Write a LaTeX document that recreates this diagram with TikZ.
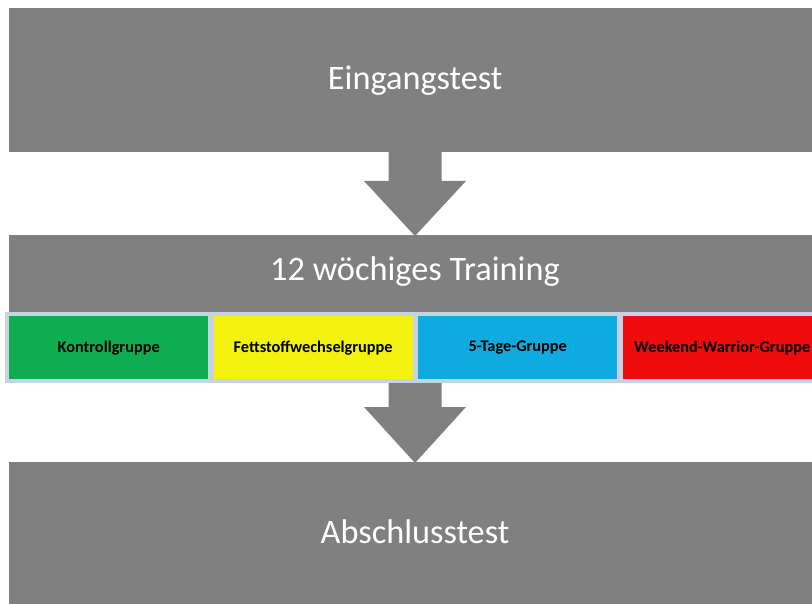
\documentclass[tikz,border=0pt]{standalone}
\usepackage{fontspec}
\setmainfont{Carlito}
\definecolor{boxgrey}{RGB}{128,128,128}
\definecolor{bandblue}{RGB}{200,210,226}
\definecolor{grpgreen}{RGB}{16,172,80}
\definecolor{grpyellow}{RGB}{242,242,14}
\definecolor{grpblue}{RGB}{14,170,224}
\definecolor{grpred}{RGB}{240,12,12}
\begin{document}
\begin{tikzpicture}[x=1pt,y=-1pt,
  bigbox/.style={fill=boxgrey, draw=none, text=white, inner sep=0pt, anchor=north west,
    font=\fontsize{34.3}{40}\selectfont},
  grpbox/.style={draw=none, inner sep=0pt, anchor=north west, minimum width=199pt,
    minimum height=63pt, text=black, font=\fontsize{16.3}{19}\selectfont\bfseries},
  arrowfill/.style={fill=boxgrey, draw=none}
]
\useasboundingbox (0,0) rectangle (812,604);
% top box
\node[bigbox, minimum width=812pt, minimum height=144pt] (eingang) at (9,8) {Eingangstest};
% middle box
\node[bigbox, minimum width=812pt, minimum height=77pt] (training) at (9,235) {};
\node[text=white, font=\fontsize{34.3}{40}\selectfont, inner sep=0pt] (traintext) at (415,272) {12 wöchiges Training};
% band
\node[fill=bandblue, draw=none, inner sep=0pt, anchor=north west, minimum width=820pt, minimum height=71pt] (band) at (5,312) {};
\node[grpbox, fill=grpgreen] (g1) at (9,316) {Kontrollgruppe};
\node[grpbox, fill=grpyellow] (g2) at (213.5,316) {Fettstoffwechselgruppe};
\node[grpbox, fill=grpblue] (g3) at (418,316) {5-Tage-Gruppe};
\node[grpbox, fill=grpred] (g4) at (622.5,316) {Weekend-Warrior-Gruppe};
% bottom box
\node[bigbox, minimum width=812pt, minimum height=150pt] (abschluss) at (9,462) {};
\node[text=white, font=\fontsize{34.3}{40}\selectfont, inner sep=0pt] (abtext) at (415,532) {Abschlusstest};
% arrow 1
\coordinate (a1top) at (415,152);
\coordinate (a1tip) at (415,236);
\fill[arrowfill] ([xshift=-26.5pt]a1top) -- ([xshift=26.5pt]a1top) -- ([xshift=26.5pt]a1top |- 0,181) -- (466,181) -- (a1tip) -- (364,181) -- ([xshift=-26.5pt]a1top |- 0,181) -- cycle;
% arrow 2
\coordinate (a2top) at (415,383);
\coordinate (a2tip) at (415,463);
\fill[arrowfill] ([xshift=-26.5pt]a2top) -- ([xshift=26.5pt]a2top) -- ([xshift=26.5pt]a2top |- 0,407) -- (466,407) -- (a2tip) -- (364,407) -- ([xshift=-26.5pt]a2top |- 0,407) -- cycle;
\end{tikzpicture}
\end{document}
